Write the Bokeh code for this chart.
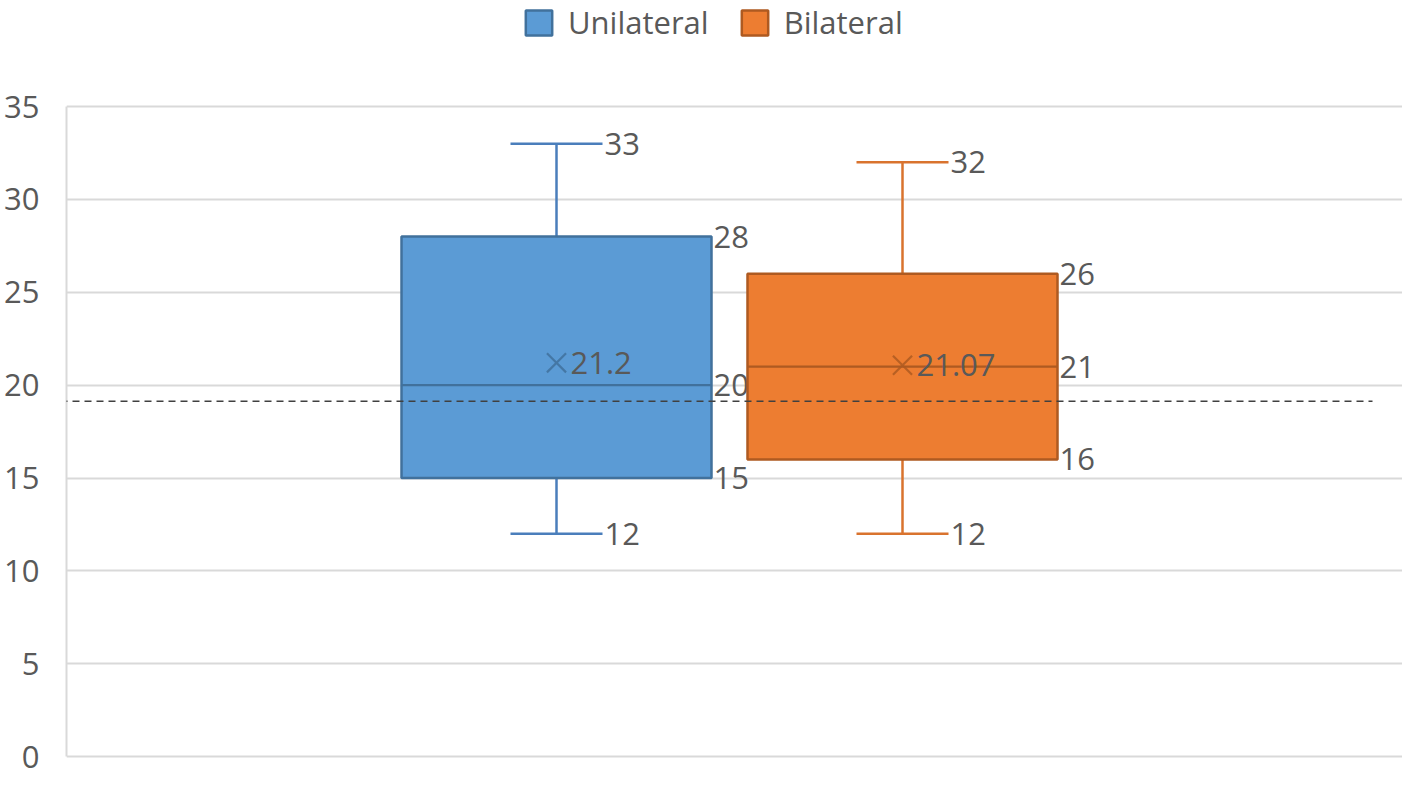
from bokeh.plotting import figure
from bokeh.models import (ColumnDataSource, Range1d, Legend, LegendItem, Arrow,
                          FixedTicker)
from bokeh.core.properties import value
from bokeh.embed import file_html
from bokeh.resources import INLINE

# ---- data ----
categories = ["Unilateral", "Bilateral"]
min_vals = [12, 12]
q1_vals = [15, 16]
median_vals = [20, 21]
q3_vals = [28, 26]
max_vals = [33, 32]
mean_vals = [21.2, 21.07]
mean_labels = ["21.2", "21.07"]
reference_value = 19.13
y_ticks = [0, 5, 10, 15, 20, 25, 30, 35]

# ---- style / layout ----
FONT = value("Open Sans")
FS = "31px"
TXT = "#595959"
centers = [490, 836]
box_half = 155
cap_half = 46
fills = ["#5B9BD5", "#ED7D31"]
edges = ["#41719C", "#AE5A21"]
whisk = ["#4A7EBB", "#D9732E"]

W, H = 1402, 778
LEFT, BOTTOM = 66, 20
TOP_PX = 106            # pixel row of the value 35
frame_h = H - BOTTOM
y_lo = -0.1
y_top = 35.0
y_hi = y_lo + (y_top - y_lo) * frame_h / (frame_h - TOP_PX)

p = figure(width=W, height=H, output_backend="svg", toolbar_location=None,
           x_range=Range1d(0, W - LEFT), y_range=Range1d(y_lo, y_hi),
           min_border_left=LEFT, min_border_right=0, min_border_top=0,
           min_border_bottom=BOTTOM)
p.outline_line_color = None
p.xaxis.visible = False
p.xgrid.visible = False
p.ygrid.grid_line_color = "#D9D9D9"
p.ygrid.grid_line_width = 2
p.yaxis.ticker = FixedTicker(ticks=y_ticks)
p.yaxis.bounds = (0, 35)
p.yaxis.axis_line_color = "#D9D9D9"
p.yaxis.axis_line_width = 2
p.yaxis.major_tick_line_color = None
p.yaxis.minor_tick_line_color = None
p.yaxis.major_tick_in = 0
p.yaxis.major_tick_out = 0
p.yaxis.major_label_text_font = "Open Sans"
p.yaxis.major_label_text_font_size = FS
p.yaxis.major_label_text_color = TXT
p.yaxis.major_label_standoff = 27

items = []
for i, name in enumerate(categories):
    c = centers[i]
    src = ColumnDataSource(dict(
        x=[c], left=[c - box_half], right=[c + box_half],
        cl=[c - cap_half], cr=[c + cap_half],
        mn=[min_vals[i]], q1=[q1_vals[i]], med=[median_vals[i]],
        q3=[q3_vals[i]], mx=[max_vals[i]], mean=[mean_vals[i]],
    ))
    # whiskers
    p.segment(x0="x", y0="q3", x1="x", y1="mx", source=src, line_color=whisk[i], line_width=2.5)
    p.segment(x0="x", y0="mn", x1="x", y1="q1", source=src, line_color=whisk[i], line_width=2.5)
    p.segment(x0="cl", y0="mx", x1="cr", y1="mx", source=src, line_color=whisk[i], line_width=2.5)
    p.segment(x0="cl", y0="mn", x1="cr", y1="mn", source=src, line_color=whisk[i], line_width=2.5)
    # box
    r = p.quad(left="left", right="right", bottom="q1", top="q3", source=src,
               fill_color=fills[i], line_color=edges[i], line_width=2.5)
    items.append(LegendItem(label=name, renderers=[r]))
    # median
    p.segment(x0="left", y0="med", x1="right", y1="med", source=src,
              line_color=edges[i], line_width=2.2)
    # mean marker
    p.scatter(x="x", y="mean", source=src, marker="x", size=27,
              line_color=edges[i], line_width=2.2, line_alpha=0.85)

    # labels
    lab = ColumnDataSource(dict(
        x=[c + cap_half, c + cap_half, c + box_half, c + box_half, c + box_half, c + 12],
        y=[max_vals[i], min_vals[i], q3_vals[i], median_vals[i], q1_vals[i], mean_vals[i]],
        t=[str(max_vals[i]), str(min_vals[i]), str(q3_vals[i]), str(median_vals[i]),
           str(q1_vals[i]), mean_labels[i]],
    ))
    p.text(x="x", y="y", text="t", source=lab, x_offset=2, text_align="left",
           text_baseline="middle", text_font=FONT, text_font_size=FS,
           text_color=TXT)

# reference dashed line
p.add_layout(Arrow(x_start=-66, y_start=reference_value, x_end=1306, y_end=reference_value,
                   start=None, end=None, line_color="#404040", line_width=1.5,
                   line_dash="7 5"))

legend = Legend(items=items, location=(456, frame_h - 43), orientation="horizontal",
                label_text_font="Open Sans", label_text_font_size=FS,
                label_text_color=TXT, glyph_width=33, glyph_height=31,
                label_standoff=13, spacing=29, padding=0, margin=0,
                border_line_color=None, background_fill_alpha=0)
p.add_layout(legend, "center")

open("out.html", "w").write(file_html(p, INLINE))
